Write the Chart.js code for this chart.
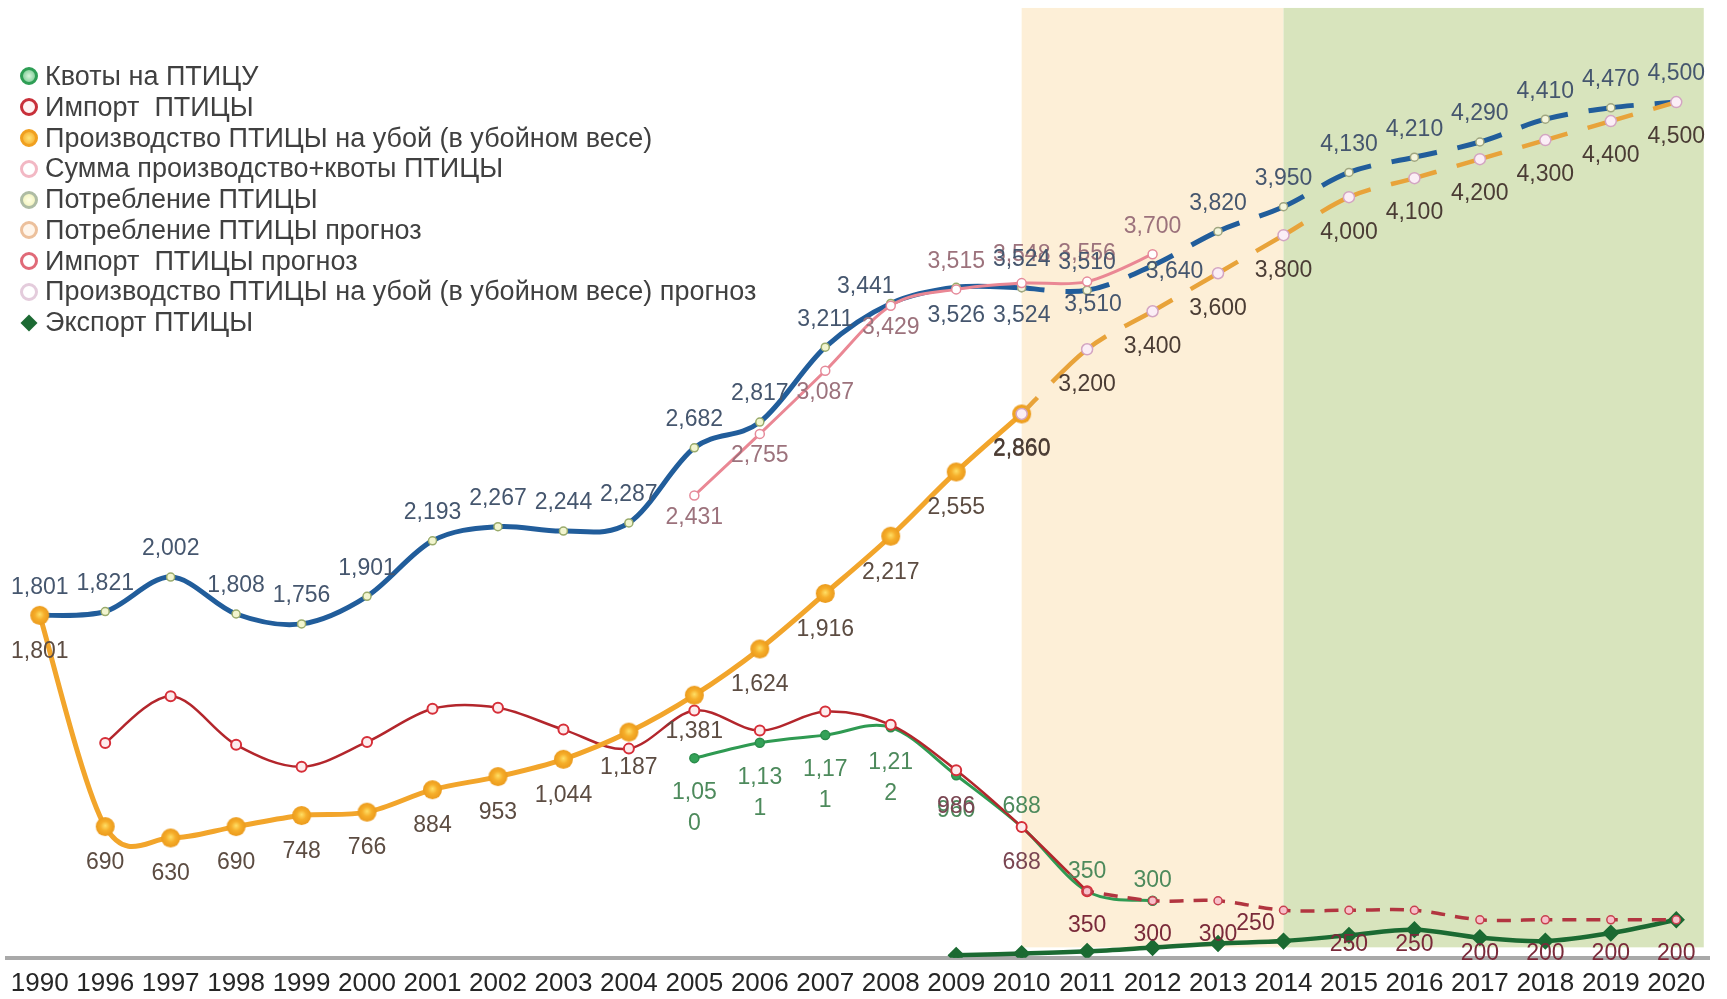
<!DOCTYPE html>
<html>
<head>
<meta charset="utf-8">
<script src="https://cdn.jsdelivr.net/npm/chart.js@4.4.1/dist/chart.umd.min.js"></script>
<style>
  html, body { margin: 0; padding: 0; background: #ffffff; }
  #wrap { position: relative; width: 1727px; height: 999px; overflow: hidden; }
  #c { position: absolute; left: 0; top: 0; }
  #legend { position: absolute; left: 20px; top: 61px; font-family: "Liberation Sans", Arial, sans-serif;
            font-size: 27px; color: #404040; }
  .li { display: flex; align-items: center; height: 30.8px; white-space: pre; }
  .mk { width: 12px; height: 12px; border-radius: 50%; border: 3px solid; margin-right: 7px; box-sizing: content-box; flex: none; }
  .dm { width: 12px; height: 12px; margin: 0 10px 0 3px; transform: rotate(45deg); flex: none; }
</style>
</head>
<body>
<div id="wrap">
  <canvas id="c" width="1727" height="999"></canvas>
  <div id="legend"></div>
</div>
<script>
// ---------- data ----------
const years = ['1990','1996','1997','1998','1999','2000','2001','2002','2003','2004','2005','2006','2007',
               '2008','2009','2010','2011','2012','2013','2014','2015','2016','2017','2018','2019','2020'];

const quota = [null,null,null,null,null,null,null,null,null,null,
               1050,1131,1171,1212,960,688,350,300,
               null,null,null,null,null,null,null,null];

const importActual = [null,1130,1375,1120,1005,1135,1310,1315,1200,1100,
                      1300,1195,1295,1225,986,688,350,
                      null,null,null,null,null,null,null,null,null];

const production = [1801,690,630,690,748,766,884,953,1044,1187,1381,1624,1916,2217,2555,2860,
                    null,null,null,null,null,null,null,null,null,null];

const sumProdQuota = [null,null,null,null,null,null,null,null,null,null,
                      2431,2755,3087,3429,3515,3548,3556,3700,
                      null,null,null,null,null,null,null,null];

const consumption = [1801,1821,2002,1808,1756,1901,2193,2267,2244,2287,2682,2817,3211,3441,3526,3524,3510,
                     null,null,null,null,null,null,null,null,null];

const consumptionForecast = [null,null,null,null,null,null,null,null,null,null,null,null,null,null,null,
                             3524,3510,3640,3820,3950,4130,4210,4290,4410,4470,4500];

const importForecast = [null,null,null,null,null,null,null,null,null,null,null,null,null,null,null,null,
                        350,300,300,250,250,250,200,200,200,200];

const productionForecast = [null,null,null,null,null,null,null,null,null,null,null,null,null,null,null,
                            2860,3200,3400,3600,3800,4000,4100,4200,4300,4400,4500];

const exportData = [null,null,null,null,null,null,null,null,null,null,null,null,null,null,
                    13,22,34,54,75,88,118,148,106,88,130,200];

const seriesNames = ['Квоты на ПТИЦУ', 'Импорт  ПТИЦЫ', 'Производство ПТИЦЫ на убой (в убойном весе)',
  'Сумма производство+квоты ПТИЦЫ', 'Потребление ПТИЦЫ', 'Потребление ПТИЦЫ прогноз',
  'Импорт  ПТИЦЫ прогноз', 'Производство ПТИЦЫ на убой (в убойном весе) прогноз', 'Экспорт ПТИЦЫ'];

// background period bands (category positions)
const bandDefs = [
  { from: '2010', to: '2014', color: '#fdefd7' },
  { from: '2014', to: null,   color: '#d8e4bd' }
];

// ---------- styling helpers ----------
const FONT = '"Liberation Sans", Arial, sans-serif';
const idx = y => years.indexOf(y);

function glowDot(r, inner, mid, edge) {
  const s = Math.ceil(r * 2 + 2);
  const c = document.createElement('canvas');
  c.width = c.height = s;
  const g = c.getContext('2d');
  const cx = s / 2;
  const grd = g.createRadialGradient(cx, cx - 1, 0, cx, cx, r);
  grd.addColorStop(0, inner); grd.addColorStop(0.5, mid); grd.addColorStop(1, edge);
  g.fillStyle = grd;
  g.beginPath(); g.arc(cx, cx, r, 0, Math.PI * 2); g.fill();
  return c;
}
const prodDot = glowDot(9.5, '#ffe066', '#f6ae2a', '#eb9a1c');

// dash restarts at every point (like the original), via per-segment offsets
const perSegDash = base => ctx => base + ctx.p0DataIndex * 0.0001;

const datasets = [
  { label: seriesNames[0], data: quota, order: 5,
    borderColor: '#2f9a52', borderWidth: 3, tension: 0.4,
    pointRadius: 4.5, pointBackgroundColor: '#34a258', pointBorderColor: '#2b8c4b', pointBorderWidth: 1.5,
    legendCss: 'border-color:#2e9e55;background:radial-gradient(#d8f5dc,#6cc488);',
    pointLabel: { color: '#4d8a5c', pos: i => i <= idx('2009') ? 'below' : 'above', above: 20, below: 35, wrap: 4, lineH: 31 } },
  { label: seriesNames[1], data: importActual, order: 4,
    borderColor: '#b3262c', borderWidth: 2.5, tension: 0.4,
    pointRadius: 5, pointBackgroundColor: '#fdeced', pointBorderColor: '#d62f39', pointBorderWidth: 2,
    legendCss: 'border-color:#c8303a;background:#fff3f3;',
    pointLabel: { color: '#7a4652', pos: i => (i === idx('2009') || i === idx('2010')) ? 'below' : null, below: 36 } },
  { label: seriesNames[2], data: production, order: 2,
    borderColor: '#f2a52b', borderWidth: 5, tension: 0.4,
    pointStyle: prodDot, pointRadius: 9.5,
    legendCss: 'border-color:#f0a020;background:radial-gradient(#ffe478,#f5a623);',
    pointLabel: { color: '#5c4c42', pos: () => 'below', below: 36 } },
  { label: seriesNames[3], data: sumProdQuota, order: 6,
    borderColor: '#ea8794', borderWidth: 3, tension: 0.4,
    pointRadius: 4.5, pointBackgroundColor: '#ffffff', pointBorderColor: '#e58a9a', pointBorderWidth: 1.5,
    legendCss: 'border-color:#f2b8c4;background:#fff;',
    pointLabel: { color: '#9c727c', pos: i => i <= idx('2008') ? 'below' : 'above', above: 28, below: 22 } },
  { label: seriesNames[4], data: consumption, order: 8,
    borderColor: '#215d9b', borderWidth: 5, tension: 0.4,
    segment: { borderColor: ctx => ctx.p0DataIndex >= idx('2010') ? 'rgba(0,0,0,0)' : undefined },
    pointRadius: 4, pointBackgroundColor: '#f2f5cf', pointBorderColor: '#9aab6c', pointBorderWidth: 1.5,
    legendCss: 'border-color:#aebca4;background:radial-gradient(#ffffe6,#eef0b4);',
    pointLabel: { color: '#45566e', pos: i => i <= idx('2008') ? 'above' : 'below', above: 28, below: 28,
                  adjust: { 13: [-25, 11], 16: [6, -14] } } },
  { label: seriesNames[5], data: consumptionForecast, order: 7,
    borderColor: '#215d9b', borderWidth: 5, tension: 0.4,
    borderDash: [46, 21], segment: { borderDashOffset: perSegDash(23) },
    pointRadius: 4, pointBackgroundColor: '#f4f5dc', pointBorderColor: '#a0a680', pointBorderWidth: 1.5,
    legendCss: 'border-color:#ecc09c;background:#fff5ea;',
    pointLabel: { color: '#45566e', pos: i => i === idx('2012') ? 'center' : 'above', above: 28,
                  adjust: { 17: [22, 6] } } },
  { label: seriesNames[6], data: importForecast, order: 3,
    borderColor: '#b23540', borderWidth: 3.5, tension: 0.4,
    borderDash: [14, 10], segment: { borderDashOffset: perSegDash(7) },
    pointRadius: 4, pointBackgroundColor: '#f7c1ca', pointBorderColor: '#c8404f', pointBorderWidth: 1.5,
    legendCss: 'border-color:#e06a78;background:#fff;',
    pointLabel: { color: '#7a2a3a', pos: () => 'below', below: 34, adjust: { 19: [-28, -21] } } },
  { label: seriesNames[7], data: productionForecast, order: 1,
    borderColor: '#e8a33a', borderWidth: 4.5, tension: 0.3,
    borderDash: [46, 21], segment: { borderDashOffset: perSegDash(23) },
    pointRadius: 5.5, pointBackgroundColor: '#fbeef6', pointBorderColor: '#d3a5c2', pointBorderWidth: 1.5,
    legendCss: 'border-color:#e4ccdc;background:#fff;',
    pointLabel: { color: '#4a3c34', pos: () => 'below', below: 35 } },
  { label: seriesNames[8], data: exportData, order: 9,
    borderColor: '#1b6a32', borderWidth: 4.5, tension: 0.4,
    pointStyle: 'rectRot', pointRadius: 5.5, pointBackgroundColor: '#1b6a32', pointBorderColor: '#1b6a32',
    legendDiamond: '#1c6a33' }
];

// ---------- plugins ----------
const bandPlugin = {
  id: 'bands',
  beforeDatasetsDraw(chart) {
    const { ctx, scales: { x, y } } = chart;
    const step = x.getPixelForValue(1) - x.getPixelForValue(0);
    const top = y.getPixelForValue(4995);
    const bottom = y.getPixelForValue(55);
    ctx.save();
    bandDefs.forEach(b => {
      const x0 = x.getPixelForValue(idx(b.from));
      const x1 = b.to ? x.getPixelForValue(idx(b.to)) : x.getPixelForValue(years.length - 1) + step * 0.42;
      ctx.fillStyle = b.color;
      ctx.fillRect(x0, top, x1 - x0, bottom - top);
    });
    ctx.restore();
  }
};

// spreadsheet-style smoothing: control points = P +/- (next - prev) / 6
const smoothPlugin = {
  id: 'sheetSmooth',
  beforeDatasetsDraw(chart) {
    chart.data.datasets.forEach((ds, di) => {
      const meta = chart.getDatasetMeta(di);
      if (!meta.dataset) return;
      const pts = meta.data;
      const ok = i => i >= 0 && i < pts.length && ds.data[i] !== null && ds.data[i] !== undefined;
      pts.forEach((p, i) => {
        if (!ok(i)) return;
        const prev = ok(i - 1) ? pts[i - 1] : p;
        const next = ok(i + 1) ? pts[i + 1] : p;
        const dx = (next.x - prev.x) / 6, dy = (next.y - prev.y) / 6;
        p.cp1x = p.x - dx; p.cp1y = p.y - dy;
        p.cp2x = p.x + dx; p.cp2y = p.y + dy;
      });
      meta.dataset._pointsUpdated = true;
      meta.dataset._path = undefined;
    });
  }
};

const labelPlugin = {
  id: 'pointLabels',
  afterDatasetsDraw(chart) {
    const ctx = chart.ctx;
    ctx.save();
    ctx.font = '23px ' + FONT;
    ctx.textAlign = 'center';
    ctx.textBaseline = 'middle';
    chart.data.datasets.forEach((ds, di) => {
      const lab = ds.pointLabel;
      if (!lab) return;
      const meta = chart.getDatasetMeta(di);
      meta.data.forEach((pt, i) => {
        const v = ds.data[i];
        if (v === null || v === undefined) return;
        const pos = lab.pos(i);
        if (!pos) return;
        const text = v.toLocaleString('en-US');
        const lines = (lab.wrap && text.length > lab.wrap) ? [text.slice(0, lab.wrap), text.slice(lab.wrap)] : [text];
        const adj = (lab.adjust && lab.adjust[i]) || [0, 0];
        let yy = pt.y;
        if (pos === 'above') yy = pt.y - lab.above - (lines.length - 1) * (lab.lineH || 0);
        else if (pos === 'below') yy = pt.y + lab.below;
        ctx.fillStyle = lab.color;
        lines.forEach((ln, k) => ctx.fillText(ln, pt.x + adj[0], yy + adj[1] + k * (lab.lineH || 0)));
      });
    });
    ctx.restore();
  }
};

// ---------- chart ----------
const chart = new Chart(document.getElementById('c'), {
  type: 'line',
  data: { labels: years, datasets },
  options: {
    responsive: false,
    animation: false,
    devicePixelRatio: 1,
    layout: { autoPadding: false, padding: { left: 7, right: 18, top: 7, bottom: -10 } },
    plugins: { legend: { display: false }, tooltip: { enabled: false } },
    scales: {
      x: {
        type: 'category', offset: true,
        grid: { display: false, drawTicks: false },
        border: { display: true, color: '#a9a9a9', width: 4 },
        ticks: { color: '#262626', font: { family: FONT, size: 26 }, padding: 10, maxRotation: 0, autoSkip: false }
      },
      y: { display: false, min: 0, max: 5000 }
    }
  },
  plugins: [bandPlugin, smoothPlugin, labelPlugin]
});

// ---------- HTML legend (order as in the original) ----------
const legendEl = document.getElementById('legend');
datasets.forEach(ds => {
  const row = document.createElement('div');
  row.className = 'li';
  const m = document.createElement('span');
  if (ds.legendDiamond) { m.className = 'dm'; m.style.background = ds.legendDiamond; }
  else { m.className = 'mk'; m.style.cssText = ds.legendCss; }
  const t = document.createElement('span');
  t.textContent = ds.label;
  row.appendChild(m); row.appendChild(t);
  legendEl.appendChild(row);
});
</script>
</body>
</html>
